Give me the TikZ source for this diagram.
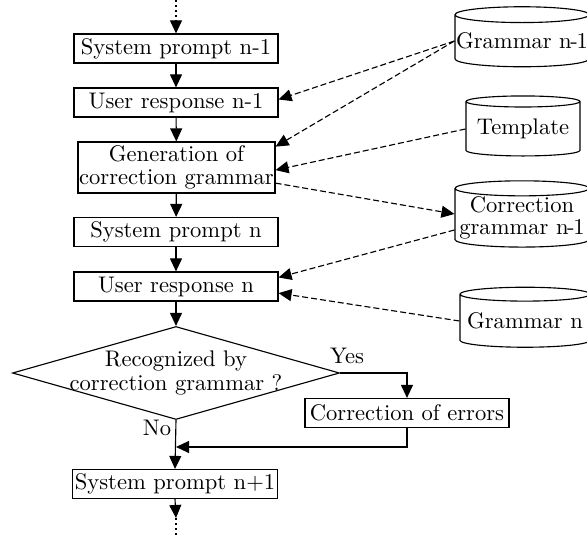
\documentclass[tikz,border=0pt]{standalone}
\usetikzlibrary{shapes.geometric,arrows.meta,calc}
\newlength\pxu
\setlength{\pxu}{0.443pt}
\newcommand\nmo{n\kern-0.6pt-\kern-0.6pt1}
\begin{document}
\begin{tikzpicture}[x=0.443pt,y=-0.443pt,
  font=\fontsize{10}{10}\selectfont,
  every path/.style={line width=0.5pt},
  procbox/.style={draw, rectangle, inner sep=0pt, minimum width=204*\pxu, minimum height=29*\pxu, line width=0.5pt},
  dbase/.style={draw, cylinder, shape border rotate=90, aspect=0.12, inner sep=0pt, line width=0.5pt, align=center},
  arr/.style={-{Triangle[length=5.76pt, width=5.3pt]}},
  darr/.style={-{Triangle[length=5.76pt, width=5.3pt]}, dash pattern=on 2.66pt off 1.33pt},
  dotline/.style={dash pattern=on 0.9pt off 1.33pt},
  lbl/.style={inner sep=0pt}
]
\useasboundingbox (0,0) rectangle (587,541);
% main column
\node[procbox] (sp1) at (176,48.5) {System prompt n-1};
\node[procbox] (ur1) at (176,102.5) {User response n-1};
\node[procbox, minimum width=197*\pxu, minimum height=51*\pxu, align=center] (gen) at (176.5,167.5) {Generation of\\correction grammar};
\node[procbox] (spn) at (176,232) {System prompt n};
\node[procbox] (urn) at (176,286.5) {User response n};
\node[draw, diamond, inner sep=-30pt, minimum width=327*\pxu, minimum height=93*\pxu, align=center, font=\fontsize{10}{11}\selectfont] (dec) at (176,373) {Recognized by\\correction grammar ?};
\node[procbox] (corr) at (407,413) {Correction of errors};
\node[procbox, minimum width=205*\pxu] (sp2) at (175,484) {System prompt n+1};
% databases
\node[dbase, minimum width=134*\pxu, minimum height=60*\pxu] (g1) at (522,41) {Grammar \nmo};
\node[dbase, minimum width=114*\pxu, minimum height=60*\pxu] (tpl) at (523,129) {Template};
\node[dbase, minimum width=134*\pxu, minimum height=61*\pxu] (cg) at (522,218) {Correction\\grammar \nmo};
\node[dbase, minimum width=130*\pxu, minimum height=60*\pxu] (gn) at (525,321) {Grammar n};
% top and bottom ends
\coordinate (t0) at (176,0);
\coordinate (t1) at (176,20);
\coordinate (b1) at (176,518);
\coordinate (b2) at (176,537);
\coordinate (mrg) at (176,447);
\draw[dotline] (t0) -- (t1);
\draw[arr] (t1) -- (sp1.north);
\draw[arr] (sp1) -- (ur1);
\draw[arr] (ur1) -- (gen);
\draw[arr] (gen) -- (spn);
\draw[arr] (spn) -- (urn);
\draw[arr] (urn) -- (dec.north);
\draw[arr] (dec.south) -- (sp2.north);
\draw[arr] (sp2.south) -- (b1);
\draw[dotline] (b1) -- (b2);
\draw[arr] (dec.east) -| (corr.north);
\draw[arr] (corr.south) |- (mrg);
\node[lbl] (yes) at (347,356) {Yes};
\node[lbl] (no) at (157,428) {No};
% dashed connectors
\draw[darr] (g1.west) -- ($(ur1.north east)!0.4!(ur1.south east)$);
\draw[darr] (g1.west) -- ($(gen.north east)!0.1!(gen.south east)$);
\draw[darr] (tpl.west) -- ($(gen.north east)!0.55!(gen.south east)$);
\draw[darr] ($(gen.north east)!0.8!(gen.south east)$) -- ([yshift=4*\pxu]cg.west);
\draw[darr] ([yshift=-12*\pxu]cg.west) -- ($(urn.north east)!0.2!(urn.south east)$);
\draw[darr] (gn.west) -- ($(urn.north east)!0.72!(urn.south east)$);
\end{tikzpicture}
\end{document}
